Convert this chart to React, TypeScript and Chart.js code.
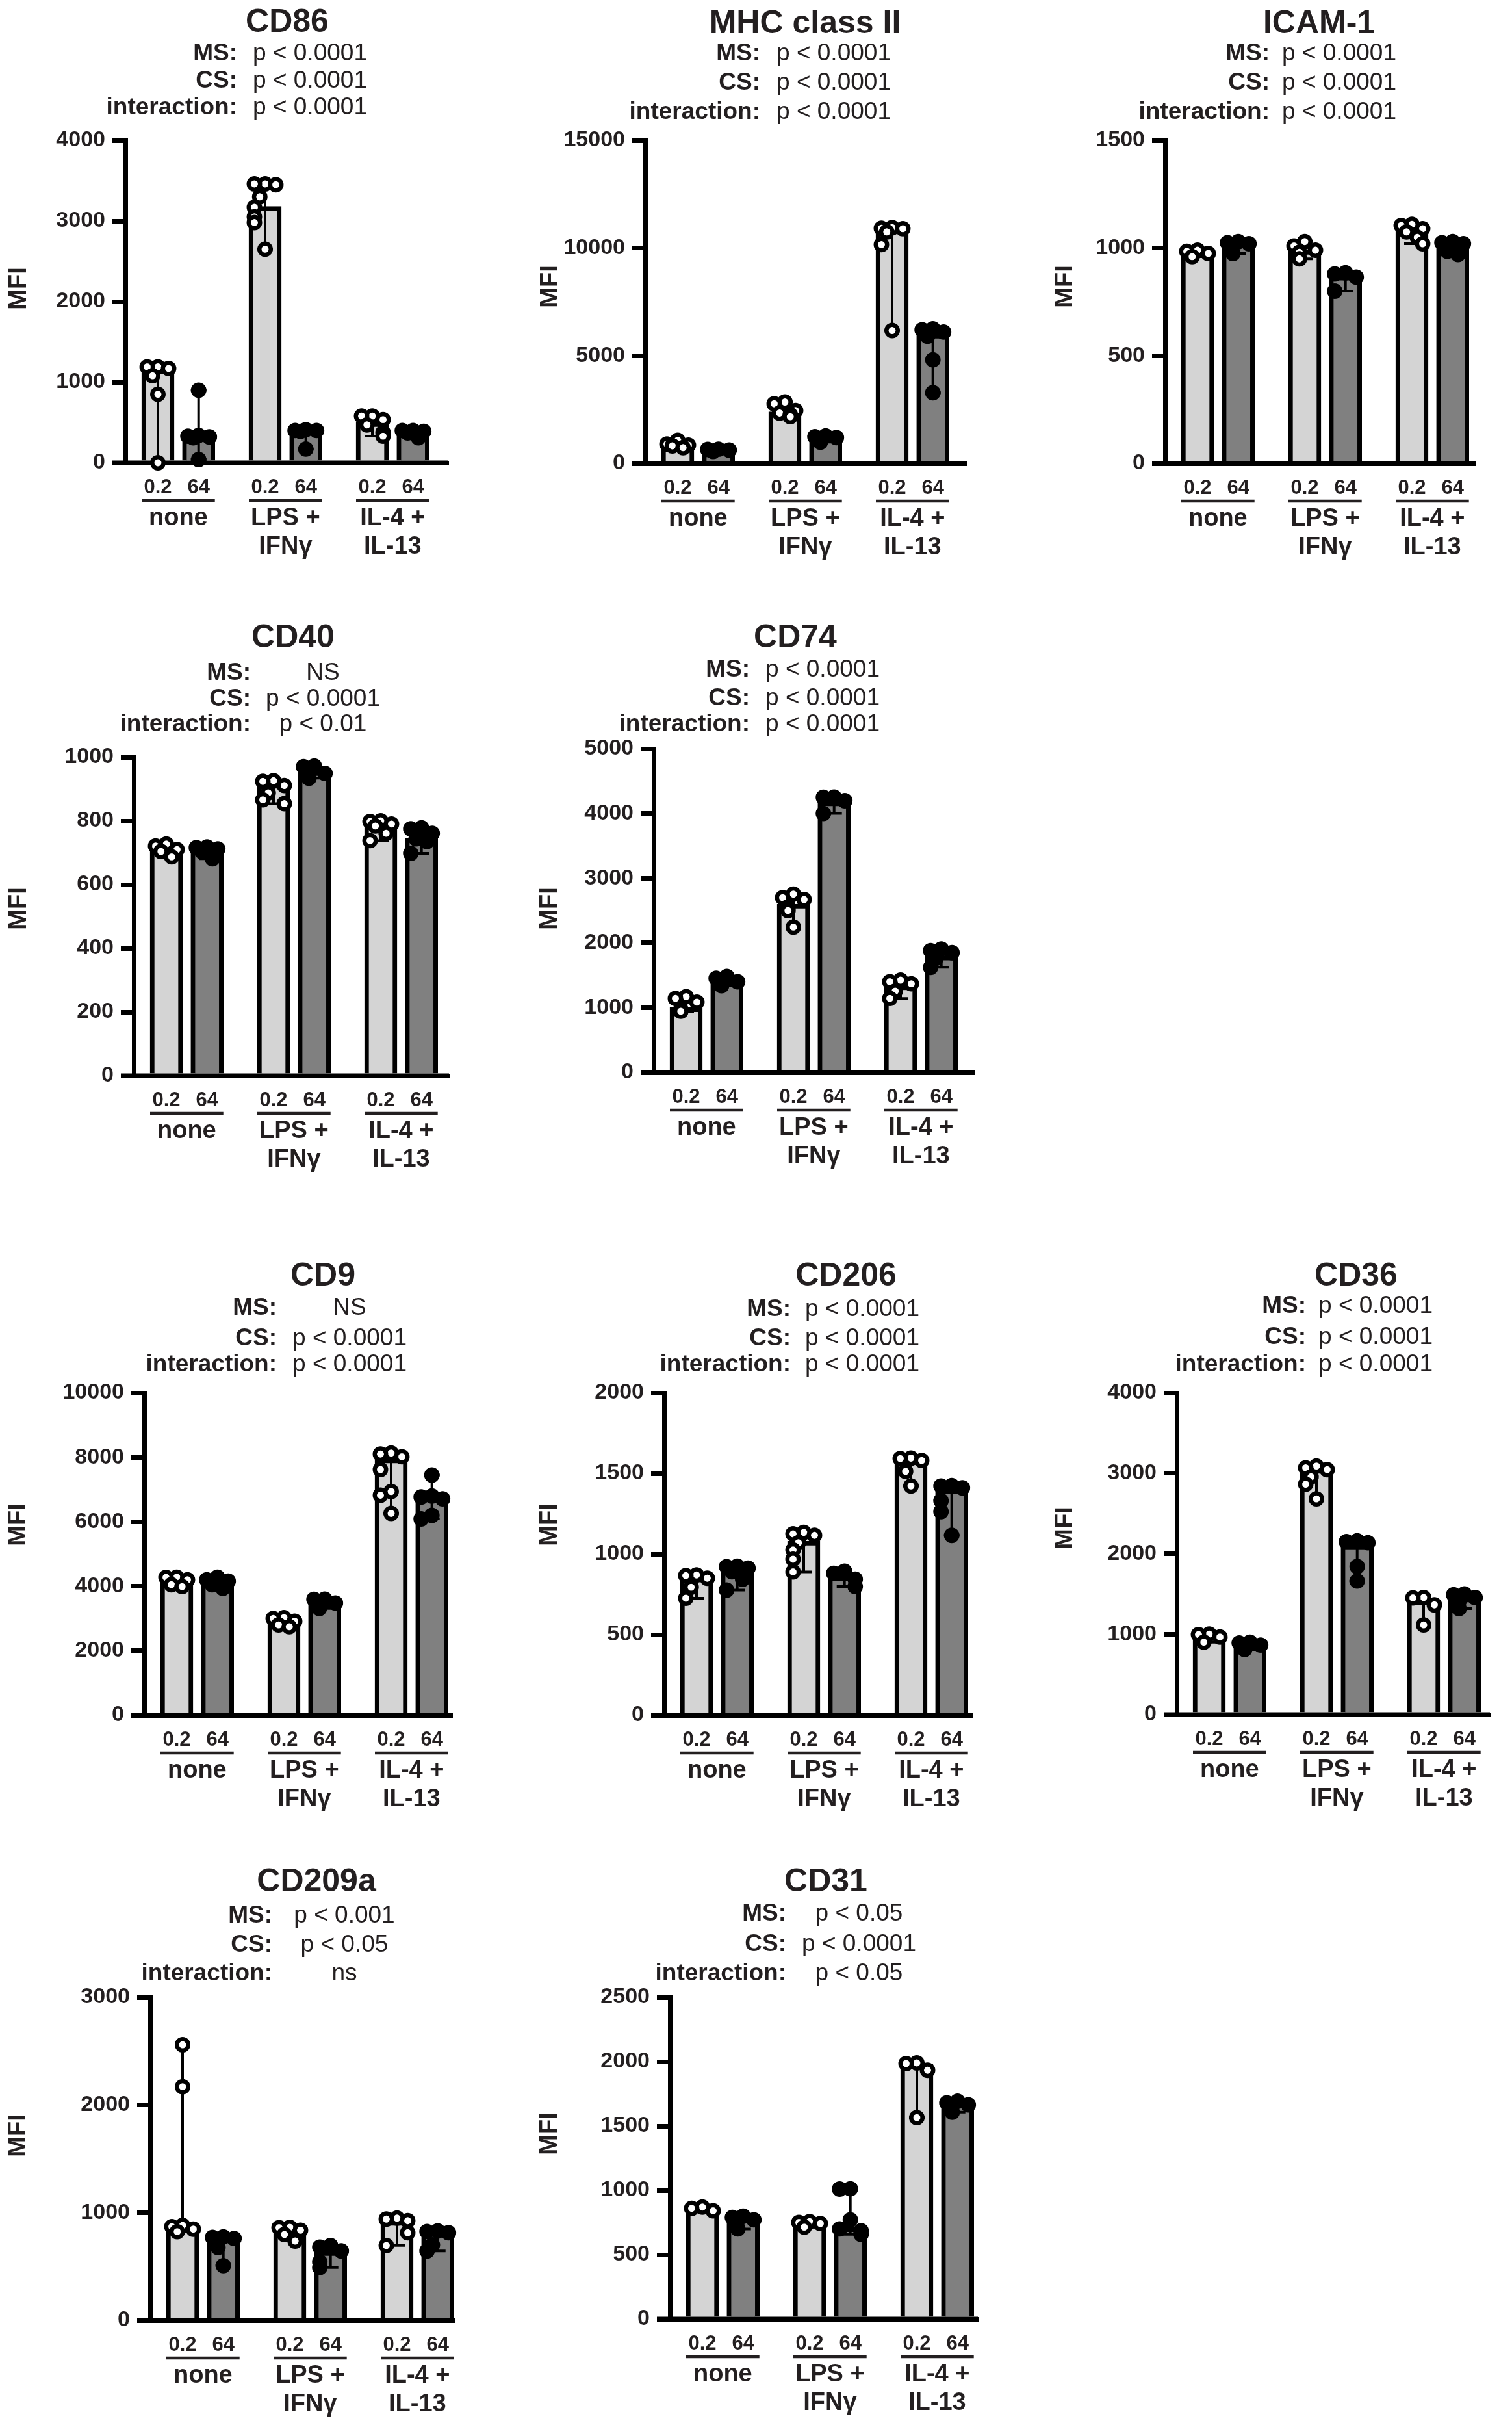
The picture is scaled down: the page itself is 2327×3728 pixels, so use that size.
import { useEffect, useRef } from "react";
import { Chart, registerables } from "chart.js";

Chart.register(...registerables);

document.body.style.margin = "0";

const FONT = '"Liberation Sans", Arial, Helvetica, sans-serif';
const INK = "#231f20";
const LIGHT = "#d4d4d4";
const DARK = "#808080";

const DOSES = ["0.2", "64"];
const GROUPS = [["none"], ["LPS +", "IFNγ"], ["IL-4 +", "IL-13"]];
const STAT_LABELS = ["MS:", "CS:", "interaction:"];

// bar order: none 0.2, none 64, LPS 0.2, LPS 64, IL-4 0.2, IL-4 64
const CD86_TICKS = [0, 1000, 2000, 3000, 4000];
const CD86_BARS = [1150, 340, 3180, 400, 500, 370];
const CD86_DOTS = [
  [1190, 1190, 1170, 1080, 850, 0],
  [900, 340, 330, 320, 310, 40],
  [3460, 3460, 3450, 3300, 3170, 3050, 2980, 2650],
  [410, 400, 400, 390, 170],
  [580, 580, 535, 470, 375, 330],
  [400, 400, 390, 370, 310],
];
const CD86_STATS = ["p < 0.0001", "p < 0.0001", "p < 0.0001"];

const MHC_TICKS = [0, 5000, 10000, 15000];
const MHC_BARS = [850, 620, 2400, 1240, 10900, 6000];
const MHC_DOTS = [
  [1070, 900, 850, 815, 730],
  [660, 650, 620, 560],
  [2850, 2770, 2450, 2340, 2260, 2170],
  [1280, 1240, 1200, 985],
  [10950, 10920, 10900, 10750, 10160, 6170],
  [6250, 6200, 6100, 5910, 4810, 3280],
];
const MHC_STATS = ["p < 0.0001", "p < 0.0001", "p < 0.0001"];

const ICAM_TICKS = [0, 500, 1000, 1500];
const ICAM_BARS = [980, 1020, 990, 870, 1090, 1020];
const ICAM_DOTS = [
  [990, 985, 975, 960],
  [1030, 1025, 1020, 975],
  [1030, 1010, 990, 980, 950],
  [885, 880, 865, 800],
  [1110, 1105, 1090, 1075, 1050, 1020],
  [1030, 1025, 1020, 985, 970],
];
const ICAM_STATS = ["p < 0.0001", "p < 0.0001", "p < 0.0001"];

const CD40_TICKS = [0, 200, 400, 600, 800, 1000];
const CD40_BARS = [705, 710, 915, 955, 785, 745];
const CD40_DOTS = [
  [727, 721, 710, 704, 687],
  [718, 716, 712, 704, 681],
  [926, 924, 911, 888, 866, 854],
  [972, 970, 949, 934],
  [800, 798, 790, 784, 761, 738],
  [778, 775, 761, 744, 735, 698],
];
const CD40_STATS = ["NS", "p < 0.0001", "p < 0.01"];

const CD74_TICKS = [0, 1000, 2000, 3000, 4000, 5000];
const CD74_BARS = [1000, 1400, 2600, 4180, 1340, 1800];
const CD74_DOTS = [
  [1170, 1143, 1086, 973, 945],
  [1482, 1454, 1400, 1340],
  [2754, 2700, 2670, 2557, 2500, 2245],
  [4253, 4250, 4197, 4000],
  [1425, 1400, 1369, 1256, 1143],
  [1906, 1880, 1850, 1765, 1623],
];
const CD74_STATS = ["p < 0.0001", "p < 0.0001", "p < 0.0001"];

const CD9_TICKS = [0, 2000, 4000, 6000, 8000, 10000];
const CD9_BARS = [4200, 4150, 2900, 3500, 7950, 6750];
const CD9_DOTS = [
  [4280, 4274, 4200, 4048, 3990],
  [4280, 4200, 4160, 4048, 3934],
  [3027, 3000, 2914, 2800, 2744],
  [3600, 3594, 3480, 3310],
  [8130, 8100, 8016, 7620, 6940, 6825, 6260],
  [7450, 6800, 6770, 6712, 6200, 6090],
];
const CD9_STATS = ["NS", "p < 0.0001", "p < 0.0001"];

const CD206_TICKS = [0, 500, 1000, 1500, 2000];
const CD206_BARS = [860, 910, 1080, 860, 1580, 1400];
const CD206_DOTS = [
  [870, 866, 850, 794, 726],
  [925, 922, 912, 890, 844, 776],
  [1134, 1125, 1116, 1070, 1025, 968, 889],
  [893, 880, 844, 798],
  [1595, 1592, 1580, 1513, 1422],
  [1425, 1422, 1410, 1331, 1263, 1116],
];
const CD206_STATS = ["p < 0.0001", "p < 0.0001", "p < 0.0001"];

const CD36_TICKS = [0, 1000, 2000, 3000, 4000];
const CD36_BARS = [980, 880, 3050, 2100, 1420, 1450];
const CD36_DOTS = [
  [1000, 995, 964, 900],
  [900, 890, 864, 809],
  [3090, 3068, 3045, 2955, 2864, 2682],
  [2160, 2150, 2136, 1841, 1660],
  [1455, 1450, 1364, 1114],
  [1500, 1490, 1455, 1409, 1318],
];
const CD36_STATS = ["p < 0.0001", "p < 0.0001", "p < 0.0001"];

const CD209A_TICKS = [0, 1000, 2000, 3000];
const CD209A_BARS = [870, 760, 830, 640, 920, 830];
const CD209A_DOTS = [
  [2559, 2169, 881, 870, 847, 823],
  [775, 770, 760, 678, 508],
  [864, 860, 837, 797, 736],
  [695, 680, 644, 542, 491],
  [949, 940, 925, 813, 695],
  [830, 825, 813, 700, 644],
];
const CD209A_STATS = ["p < 0.001", "p < 0.05", "ns"];

const CD31_TICKS = [0, 500, 1000, 1500, 2000, 2500];
const CD31_BARS = [860, 780, 745, 710, 1980, 1670];
const CD31_DOTS = [
  [870, 860, 841],
  [799, 790, 771, 700],
  [757, 750, 742, 714],
  [1012, 1010, 771, 700, 686, 658],
  [1990, 1985, 1933, 1565],
  [1692, 1680, 1664, 1607],
];
const CD31_STATS = ["p < 0.05", "p < 0.0001", "p < 0.05"];

// x geometry: one unit per treatment group
const PX_PER_UNIT = 165;
const PAIR = 0.19;
const XMIN = -PAIR - 50 / PX_PER_UNIT;
const SLOTS = [0, -0.1, 0.1, -0.05, 0.05, -0.1, 0.1, 0];
const CAP = 12;
const Y_BOX = 170; // width of the y scale box, tick labels are clipped to it

const barX = (i: number) => Math.floor(i / 2) + (i % 2 ? PAIR : -PAIR);

// push overlapping dots sideways, lone dots stay centred
function spread(vals: number[], span: number) {
  const placed: number[] = [];
  return vals.map((v) => {
    const k = placed.filter((u) => Math.abs(u - v) < span * 0.045).length;
    placed.push(v);
    return SLOTS[k % SLOTS.length];
  });
}

interface PanelProps {
  title: string;
  ticks: number[];
  bars: number[];
  dots: number[][];
  stats: string[];
  ax: number;
  top: number;
  zero: number;
  len: number;
  titleY: number;
  statY: number[];
  titleDx: number;
  labelDx: number;
  valueDx: number;
  mfiX: number;
  mfiY: number;
}

function Panel(p: PanelProps) {
  const ref = useRef<HTMLCanvasElement>(null);
  const left = Math.max(0, p.mfiX - 30);
  const top = p.titleY - 55;
  const width = p.ax + p.len + 40 - left;
  const height = p.zero + 155 - top;

  useEffect(() => {
    if (!ref.current) return;
    const padL = p.ax - left;
    const ymax = p.ticks[p.ticks.length - 1];
    const xmax = XMIN + p.len / PX_PER_UNIT;

    const scatter = (d: number) =>
      p.dots.flatMap((vals, i) => {
        if (i % 2 !== d) return [];
        const offs = spread(vals, ymax);
        return vals.map((v, j) => ({ x: barX(i) + offs[j], y: v }));
      });

    const overlay = {
      id: "panelText",
      afterDatasetDraw(chart: any, args: any) {
        if (args.index !== 0) return;
        const { ctx, chartArea, scales } = chart;
        const { x, y } = scales;
        ctx.save();
        // axis line again so the bars sit on it
        ctx.strokeStyle = "#000";
        ctx.lineWidth = 7;
        ctx.beginPath();
        ctx.moveTo(chartArea.left - 20, y.getPixelForValue(0));
        ctx.lineTo(chartArea.right, y.getPixelForValue(0));
        ctx.stroke();
        // range bars
        ctx.lineWidth = 4;
        p.dots.forEach((vals, i) => {
          if (vals.length < 2) return;
          const cx = x.getPixelForValue(barX(i));
          const y1 = y.getPixelForValue(Math.min(...vals));
          const y2 = y.getPixelForValue(Math.max(...vals));
          ctx.beginPath();
          ctx.moveTo(cx, y1);
          ctx.lineTo(cx, y2);
          ctx.moveTo(cx - CAP, y1);
          ctx.lineTo(cx + CAP, y1);
          ctx.moveTo(cx - CAP, y2);
          ctx.lineTo(cx + CAP, y2);
          ctx.stroke();
        });
        ctx.restore();
      },
      afterDraw(chart: any) {
        const { ctx, scales } = chart;
        const x = scales.x;
        const zy = p.zero - top;
        const half = 25;
        ctx.save();
        ctx.fillStyle = INK;
        ctx.strokeStyle = INK;
        ctx.textAlign = "center";
        ctx.textBaseline = "alphabetic";
        GROUPS.forEach((g, gi) => {
          const c0 = x.getPixelForValue(barX(gi * 2));
          const c1 = x.getPixelForValue(barX(gi * 2 + 1));
          ctx.font = `bold 31px ${FONT}`;
          ctx.fillText(DOSES[0], c0, zy + 47);
          ctx.fillText(DOSES[1], c1, zy + 47);
          ctx.lineWidth = 4.5;
          ctx.beginPath();
          ctx.moveTo(c0 - half, zy + 58);
          ctx.lineTo(c1 + half, zy + 58);
          ctx.stroke();
          ctx.font = `bold 38px ${FONT}`;
          g.forEach((line, li) => ctx.fillText(line, (c0 + c1) / 2, zy + 96 + li * 44));
        });
        // title and stats
        ctx.font = `bold 50px ${FONT}`;
        ctx.fillText(p.title, p.ax + p.titleDx - left, p.titleY - top);
        STAT_LABELS.forEach((lab, i) => {
          const by = p.statY[i] - top;
          ctx.textAlign = "right";
          ctx.font = `bold 37px ${FONT}`;
          ctx.fillText(lab, p.ax + p.labelDx - left, by);
          ctx.textAlign = "center";
          ctx.font = `37px ${FONT}`;
          ctx.fillText(p.stats[i], p.ax + p.valueDx - left, by);
        });
        // y title
        ctx.translate(p.mfiX - left, p.mfiY - top);
        ctx.rotate(-Math.PI / 2);
        ctx.textBaseline = "middle";
        ctx.font = `bold 38px ${FONT}`;
        ctx.fillText("MFI", 0, 0);
        ctx.restore();
      },
    };

    const chart = new Chart(ref.current, {
      type: "bar",
      data: {
        datasets: [
          {
            type: "bar",
            data: p.bars.map((v, i) => ({ x: barX(i), y: v })),
            backgroundColor: p.bars.map((_, i) => (i % 2 ? DARK : LIGHT)),
            borderColor: "#000",
            borderWidth: 7,
            barThickness: 50,
            order: 3,
          } as any,
          {
            type: "scatter",
            data: scatter(0),
            pointRadius: 8.7,
            pointBorderWidth: 6.5,
            pointBackgroundColor: "#fff",
            pointBorderColor: "#000",
            clip: false,
            order: 1,
          } as any,
          {
            type: "scatter",
            data: scatter(1),
            pointRadius: 8.7,
            pointBorderWidth: 6.5,
            pointBackgroundColor: "#000",
            pointBorderColor: "#000",
            clip: false,
            order: 1,
          } as any,
        ],
      },
      options: {
        responsive: false,
        animation: false,
        devicePixelRatio: 1,
        events: [],
        layout: {
          padding: {
            left: padL - Y_BOX,
            top: p.top - top,
            right: width - padL - p.len,
            bottom: height - (p.zero - top),
          },
        },
        plugins: {
          legend: { display: false },
          tooltip: { enabled: false },
        },
        scales: {
          x: {
            type: "linear",
            min: XMIN,
            max: xmax,
            offset: false,
            ticks: { display: false },
            grid: { display: false },
            border: { display: true, color: "#000", width: 7 },
            afterFit: (s: any) => {
              s.height = 0;
            },
          },
          y: {
            type: "linear",
            min: 0,
            max: ymax,
            afterBuildTicks: (s: any) => {
              s.ticks = p.ticks.map((v) => ({ value: v }));
            },
            ticks: {
              callback: (v: any) => String(v),
              font: { family: FONT, size: 34, weight: "bold" },
              color: INK,
              padding: 11,
              autoSkip: false,
            },
            grid: {
              drawOnChartArea: false,
              drawTicks: true,
              tickLength: 20,
              lineWidth: 7,
              color: "#000",
            },
            border: { display: true, color: "#000", width: 7 },
            afterFit: (s: any) => {
              s.width = Y_BOX;
            },
          },
        },
      } as any,
      plugins: [overlay],
    });
    return () => chart.destroy();
  }, []);

  return (
    <canvas
      ref={ref}
      width={width}
      height={height}
      style={{ position: "absolute", left, top, width, height }}
    />
  );
}

export default function App() {
  return (
    <div style={{ position: "relative", width: 2327, height: 3728, background: "#fff", overflow: "hidden" }}>
      <Panel title="CD86" ticks={CD86_TICKS} bars={CD86_BARS} dots={CD86_DOTS} stats={CD86_STATS}
        ax={193} top={216} zero={712} len={497} titleY={49} statY={[93, 135, 176]}
        titleDx={249} labelDx={172} valueDx={284} mfiX={30} mfiY={444} />
      <Panel title="MHC class II" ticks={MHC_TICKS} bars={MHC_BARS} dots={MHC_DOTS} stats={MHC_STATS}
        ax={993} top={216} zero={713} len={495} titleY={51} statY={[93, 138, 183]}
        titleDx={246} labelDx={177} valueDx={290} mfiX={848} mfiY={441} />
      <Panel title="ICAM-1" ticks={ICAM_TICKS} bars={ICAM_BARS} dots={ICAM_DOTS} stats={ICAM_STATS}
        ax={1793} top={216} zero={713} len={477} titleY={51} statY={[93, 138, 183]}
        titleDx={237} labelDx={161} valueDx={268} mfiX={1640} mfiY={441} />
      <Panel title="CD40" ticks={CD40_TICKS} bars={CD40_BARS} dots={CD40_DOTS} stats={CD40_STATS}
        ax={206} top={1165} zero={1655} len={485} titleY={996} statY={[1046, 1086, 1125]}
        titleDx={245} labelDx={180} valueDx={291} mfiX={30} mfiY={1398} />
      <Panel title="CD74" ticks={CD74_TICKS} bars={CD74_BARS} dots={CD74_DOTS} stats={CD74_STATS}
        ax={1006} top={1152} zero={1650} len={494} titleY={996} statY={[1041, 1085, 1125]}
        titleDx={218} labelDx={148} valueDx={260} mfiX={847} mfiY={1398} />
      <Panel title="CD9" ticks={CD9_TICKS} bars={CD9_BARS} dots={CD9_DOTS} stats={CD9_STATS}
        ax={222} top={2143} zero={2639} len={474} titleY={1978} statY={[2023, 2070, 2110]}
        titleDx={275} labelDx={204} valueDx={316} mfiX={29} mfiY={2346} />
      <Panel title="CD206" ticks={CD206_TICKS} bars={CD206_BARS} dots={CD206_DOTS} stats={CD206_STATS}
        ax={1022} top={2143} zero={2639} len={474} titleY={1978} statY={[2025, 2070, 2110]}
        titleDx={280} labelDx={195} valueDx={305} mfiX={847} mfiY={2346} />
      <Panel title="CD36" ticks={CD36_TICKS} bars={CD36_BARS} dots={CD36_DOTS} stats={CD36_STATS}
        ax={1811} top={2143} zero={2638} len={482} titleY={1978} statY={[2020, 2068, 2110]}
        titleDx={276} labelDx={199} valueDx={306} mfiX={1640} mfiY={2351} />
      <Panel title="CD209a" ticks={CD209A_TICKS} bars={CD209A_BARS} dots={CD209A_DOTS} stats={CD209A_STATS}
        ax={231} top={3073} zero={3570} len={469} titleY={2910} statY={[2958, 3003, 3047]}
        titleDx={256} labelDx={188} valueDx={299} mfiX={29} mfiY={3286} />
      <Panel title="CD31" ticks={CD31_TICKS} bars={CD31_BARS} dots={CD31_DOTS} stats={CD31_STATS}
        ax={1031} top={3073} zero={3568} len={474} titleY={2910} statY={[2955, 3002, 3047]}
        titleDx={240} labelDx={179} valueDx={291} mfiX={847} mfiY={3283} />
    </div>
  );
}
